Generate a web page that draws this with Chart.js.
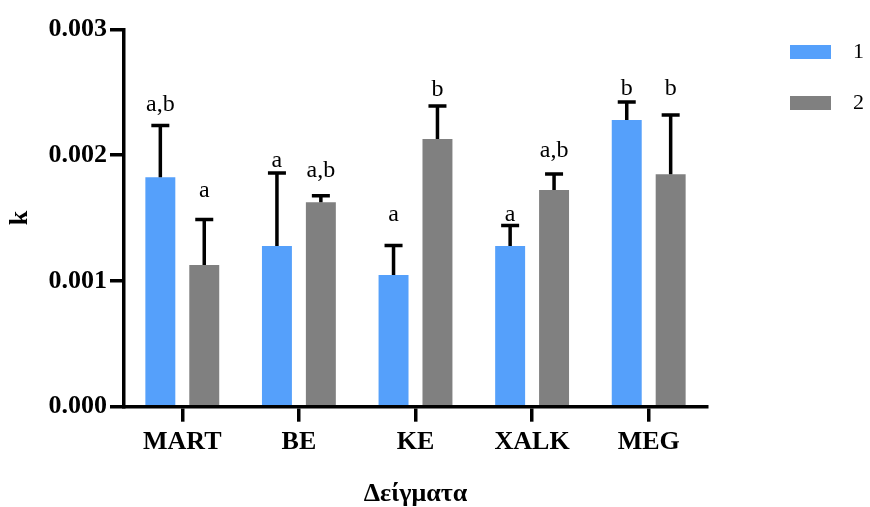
<!DOCTYPE html>
<html>
<head>
<meta charset="utf-8">
<script src="https://cdn.jsdelivr.net/npm/chart.js@4.4.1/dist/chart.umd.min.js"></script>
<style>
  html, body { margin: 0; padding: 0; background: #fff; }
  canvas { display: block; }
</style>
</head>
<body>
<canvas id="chart" width="870" height="507"></canvas>
<script>
// Données
const categories = ['MART', 'BE', 'KE', 'XALK', 'MEG'];
const seriesNames = ['1', '2'];

const mean1 = [0.001825, 0.001278, 0.001047, 0.001278, 0.002280];
const sd1   = [0.000411, 0.000581, 0.000235, 0.000163, 0.000143];
const mean2 = [0.001127, 0.001626, 0.002129, 0.001723, 0.001848];
const sd2   = [0.000362, 0.000051, 0.000263, 0.000128, 0.000472];

// lettres de significativité et hauteur (en unités de k) où elles sont posées
const letters1  = ['a,b', 'a', 'a', 'a', 'b'];
const letterAt1 = [0.002349, 0.001903, 0.001473, 0.001473, 0.002476];
const letters2  = ['a', 'a,b', 'b', 'a,b', 'b'];
const letterAt2 = [0.001664, 0.001823, 0.002468, 0.001982, 0.002476];

const yTicks = [0, 0.001, 0.002, 0.003];

const SERIF = "'Liberation Serif', 'Times New Roman', serif";

// Barres d'erreur (vers le haut seulement) + lettres
const errorBarPlugin = {
    id: 'errorBars',
    afterDatasetsDraw(chart) {
        const ctx = chart.ctx;
        const yScale = chart.scales.y;
        ctx.save();
        ctx.strokeStyle = '#000';
        ctx.fillStyle = '#000';
        ctx.lineWidth = 3.5;
        ctx.font = '24px ' + SERIF;
        ctx.textAlign = 'center';
        ctx.textBaseline = 'alphabetic';
        chart.data.datasets.forEach((ds, di) => {
            const meta = chart.getDatasetMeta(di);
            meta.data.forEach((bar, i) => {
                const top = yScale.getPixelForValue(ds.data[i] + ds.sd[i]);
                ctx.beginPath();
                ctx.moveTo(bar.x, bar.y);
                ctx.lineTo(bar.x, top);
                ctx.moveTo(bar.x - 9, top);
                ctx.lineTo(bar.x + 9, top);
                ctx.stroke();
                ctx.fillText(ds.letters[i], bar.x, yScale.getPixelForValue(ds.letterAt[i]));
            });
        });
        ctx.restore();
    }
};

const ctx = document.getElementById('chart').getContext('2d');
new Chart(ctx, {
    type: 'bar',
    data: {
        labels: categories,
        datasets: [
            { label: seriesNames[0], data: mean1, sd: sd1, letters: letters1, letterAt: letterAt1,
              backgroundColor: '#55a0fb', borderWidth: 0 },
            { label: seriesNames[1], data: mean2, sd: sd2, letters: letters2, letterAt: letterAt2,
              backgroundColor: '#808080', borderWidth: 0 }
        ]
    },
    options: {
        responsive: false,
        animation: false,
        categoryPercentage: 0.7534,
        barPercentage: 0.682,
        layout: { padding: { left: 0, right: 0, top: 0, bottom: 0 } },
        scales: {
            x: {
                offset: true,
                grid: { display: true, drawOnChartArea: false, drawTicks: true, offset: false,
                        tickLength: 15, lineWidth: 3.5, color: '#000' },
                border: { display: true, color: '#000', width: 3.5 },
                ticks: { color: '#000', padding: 5, font: { family: SERIF, size: 26, weight: 'bold' } },
                title: { display: true, text: 'Δείγματα', color: '#000',
                         font: { family: SERIF, size: 26, weight: 'bold', lineHeight: 1 },
                         padding: { top: 0, bottom: 0 } },
                afterFit: s => { s.height = 100.3; }
            },
            y: {
                min: 0,
                max: 0.003,
                afterBuildTicks: s => { s.ticks = yTicks.map(v => ({ value: v })); },
                grid: { display: true, drawOnChartArea: false, drawTicks: true,
                        tickLength: 14, lineWidth: 3.5, color: '#000' },
                border: { display: true, color: '#000', width: 3.5 },
                ticks: { color: '#000', padding: 3, font: { family: SERIF, size: 26, weight: 'bold' },
                         callback: v => Number(v).toFixed(3) },
                title: { display: true, text: 'k', color: '#000',
                         font: { family: SERIF, size: 26, weight: 'bold', lineHeight: 1 },
                         padding: { top: 7, bottom: 0 } },
                afterFit: s => { s.width = 124; }
            },
            y2: {
                position: 'right',
                display: true,
                grid: { display: false },
                border: { display: false },
                ticks: { display: false },
                afterFit: s => { s.width = 54; }
            }
        },
        plugins: {
            title: { display: true, text: '', font: { size: 10, lineHeight: 1 }, padding: { top: 19.5, bottom: 0 } },
            legend: {
                position: 'right',
                align: 'start',
                maxWidth: 109,
                title: { display: true, text: '', font: { size: 12, lineHeight: 1 }, padding: 0 },
                labels: {
                    boxWidth: 41,
                    boxHeight: 14,
                    padding: 29,
                    color: '#000',
                    font: { family: SERIF, size: 22 },
                    // écart plus large entre la case et le texte, comme sur la figure
                    generateLabels: chart => Chart.defaults.plugins.legend.labels.generateLabels(chart)
                        .map(item => ({ ...item, text: '\u2002' + item.text }))
                }
            },
            tooltip: { enabled: false }
        }
    },
    plugins: [errorBarPlugin]
});
</script>
</body>
</html>
